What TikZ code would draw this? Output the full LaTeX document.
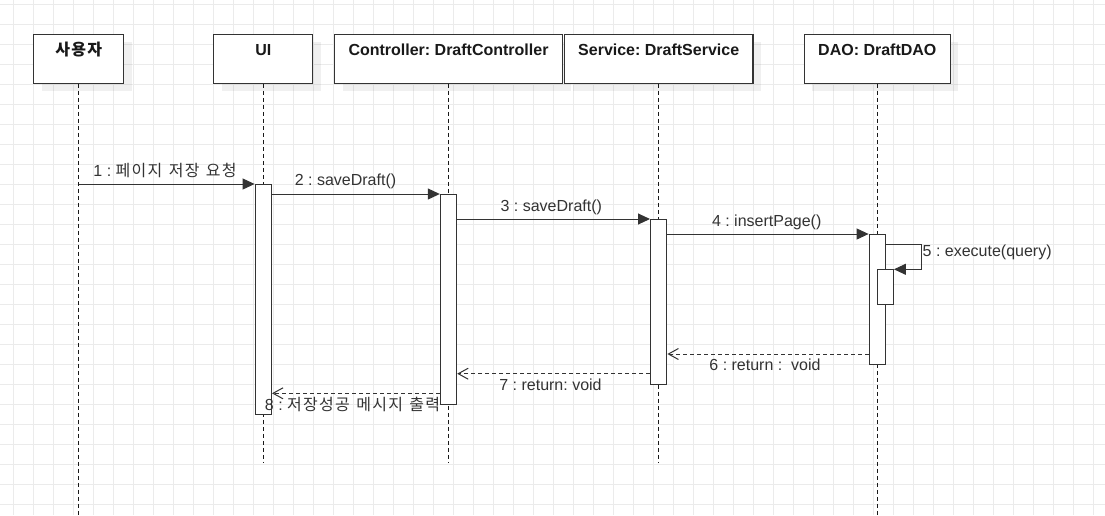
\documentclass[tikz,border=0pt]{standalone}
\usepackage{fontspec}
\setmainfont{Liberation Sans}
\newfontfamily\kr[LetterSpace=8,WordSpace=1.3]{Noto Sans CJK KR}
\usetikzlibrary{arrows.meta}
\definecolor{gridc}{HTML}{EBEBEB}
\definecolor{ink}{HTML}{333333}
\frenchspacing
\begin{document}
\begin{tikzpicture}[x=1pt,y=-1pt,
  gridline/.style={draw=gridc, line width=1pt},
  lifebox/.style={draw=ink, line width=1.2pt, fill=white, inner sep=0pt, anchor=north},
  shadowbox/.style={fill=black, opacity=0.06, draw=none},
  lifeline/.style={draw=black!90, line width=1pt, dash pattern=on 4pt off 3pt},
  actbar/.style={draw=ink, line width=1pt, fill=white, minimum width=16.4pt, inner sep=0pt, anchor=north},
  sync/.style={draw=ink, line width=1pt, -{Triangle[length=12pt,width=11pt]}},
  ret/.style={draw=ink, line width=1pt, dash pattern=on 4pt off 3pt, -{Straight Barb[length=10pt,width=11pt]}},
  msg/.style={font=\fontsize{16}{19}\selectfont, text=ink, inner sep=0pt, anchor=base},
  title/.style={font=\bfseries\fontsize{16}{19}\selectfont, text=black!90, inner sep=0pt, anchor=base},
]
\useasboundingbox (0,0) rectangle (1105,515);
\fill[white] (0,0) rectangle (1105,515);
% grid
\foreach \i in {0,...,54} \draw[gridline] ({13.3+20*\i},0) -- ({13.3+20*\i},515);
\foreach \j in {0,...,25} \draw[gridline] (0,{4.3+20*\j}) -- (1105,{4.3+20*\j});

% shadows
\fill[shadowbox] (41.7,41.7) rectangle (131.7,90.7);
\fill[shadowbox] (221.8,41.7) rectangle (320.8,90.7);
\fill[shadowbox] (342.5,41.7) rectangle (570.5,90.7);
\fill[shadowbox] (572.5,41.7) rectangle (760.9,90.7);
\fill[shadowbox] (812.3,41.7) rectangle (958.3,90.7);

% lifeline heads
\node[lifebox, minimum width=90pt, minimum height=49pt] (user) at (78.7,33.7) {};
\node[lifebox, minimum width=99pt, minimum height=49pt] (ui) at (263.3,33.7) {};
\node[lifebox, minimum width=228pt, minimum height=49pt] (ctrl) at (448.5,33.7) {};
\node[lifebox, minimum width=188.4pt, minimum height=49pt] (svc) at (658.7,33.7) {};
\node[lifebox, minimum width=146pt, minimum height=49pt] (dao) at (877.3,33.7) {};

\node[title] (tUser) at (78.7,55.5) {\kr 사용자};
\node[title] (tUI) at (263.3,55.5) {UI};
\node[title] (tCtrl) at (448.5,55.5) {Controller: DraftController};
\node[title] (tSvc) at (658.7,55.5) {Service: DraftService};
\node[title] (tDao) at (877.3,55.5) {DAO: DraftDAO};

% lifelines
\coordinate (userEnd) at (78.7,515);
\coordinate (uiEnd) at (263.3,462.3);
\coordinate (ctrlEnd) at (448.5,462.3);
\coordinate (svcEnd) at (658.7,462.3);
\coordinate (daoEnd) at (877.3,515);
\draw[lifeline] (user.south) -- (userEnd);
\draw[lifeline] (ui.south) -- (uiEnd);
\draw[lifeline] (ctrl.south) -- (ctrlEnd);
\draw[lifeline] (svc.south) -- (svcEnd);
\draw[lifeline] (dao.south) -- (daoEnd);

% activation bars
\node[actbar, minimum height=230pt] (aUI) at (263.3,184) {};
\node[actbar, minimum height=210pt] (aC) at (448.5,194) {};
\node[actbar, minimum height=165pt] (aS) at (658.7,219) {};
\node[actbar, minimum height=130pt] (aD) at (877.3,234) {};
\node[actbar, minimum height=34.7pt] (aD2) at (885.2,269.3) {};

% messages
\coordinate (m1) at (78.7,184);
\draw[sync] (m1) -- (aUI.north west);
\draw[sync] (aUI.east |- aC.north) -- (aC.north west);
\draw[sync] (aC.east |- aS.north) -- (aS.north west);
\draw[sync] (aS.east |- aD.north) -- (aD.north west);
\coordinate (s5) at (921.7,244);
\draw[sync] (aD.east |- s5) -- (s5) |- (aD2.north east);

\coordinate (r6) at (0,354);
\coordinate (r7) at (0,373.7);
\coordinate (r8) at (0,393.3);
\draw[ret] (aD.west |- r6) -- (aS.east |- r6);
\draw[ret] (aS.west |- r7) -- (aC.east |- r7);
\draw[ret] (aC.west |- r8) -- (aUI.east |- r8);

% labels
\node[msg] (l1) at (165,176) {1 : {\kr 페이지 저장 요청}};
\node[msg] (l2) at (345.5,185) {2 : saveDraft()};
\node[msg] (l3) at (551.3,211.7) {3 : saveDraft()};
\node[msg] (l4) at (766.7,226.7) {4 : insertPage()};
\node[msg, anchor=base west] (l5) at (922.5,256) {5 : execute(query)};
\node[msg] (l6) at (765,370.7) {6 : return :\ \ void};
\node[msg] (l7) at (550.5,390.7) {7 : return: void};
\node[msg] (l8) at (352.5,410.7) {8 : {\kr 저장성공 메시지 출력}};
\end{tikzpicture}
\end{document}
